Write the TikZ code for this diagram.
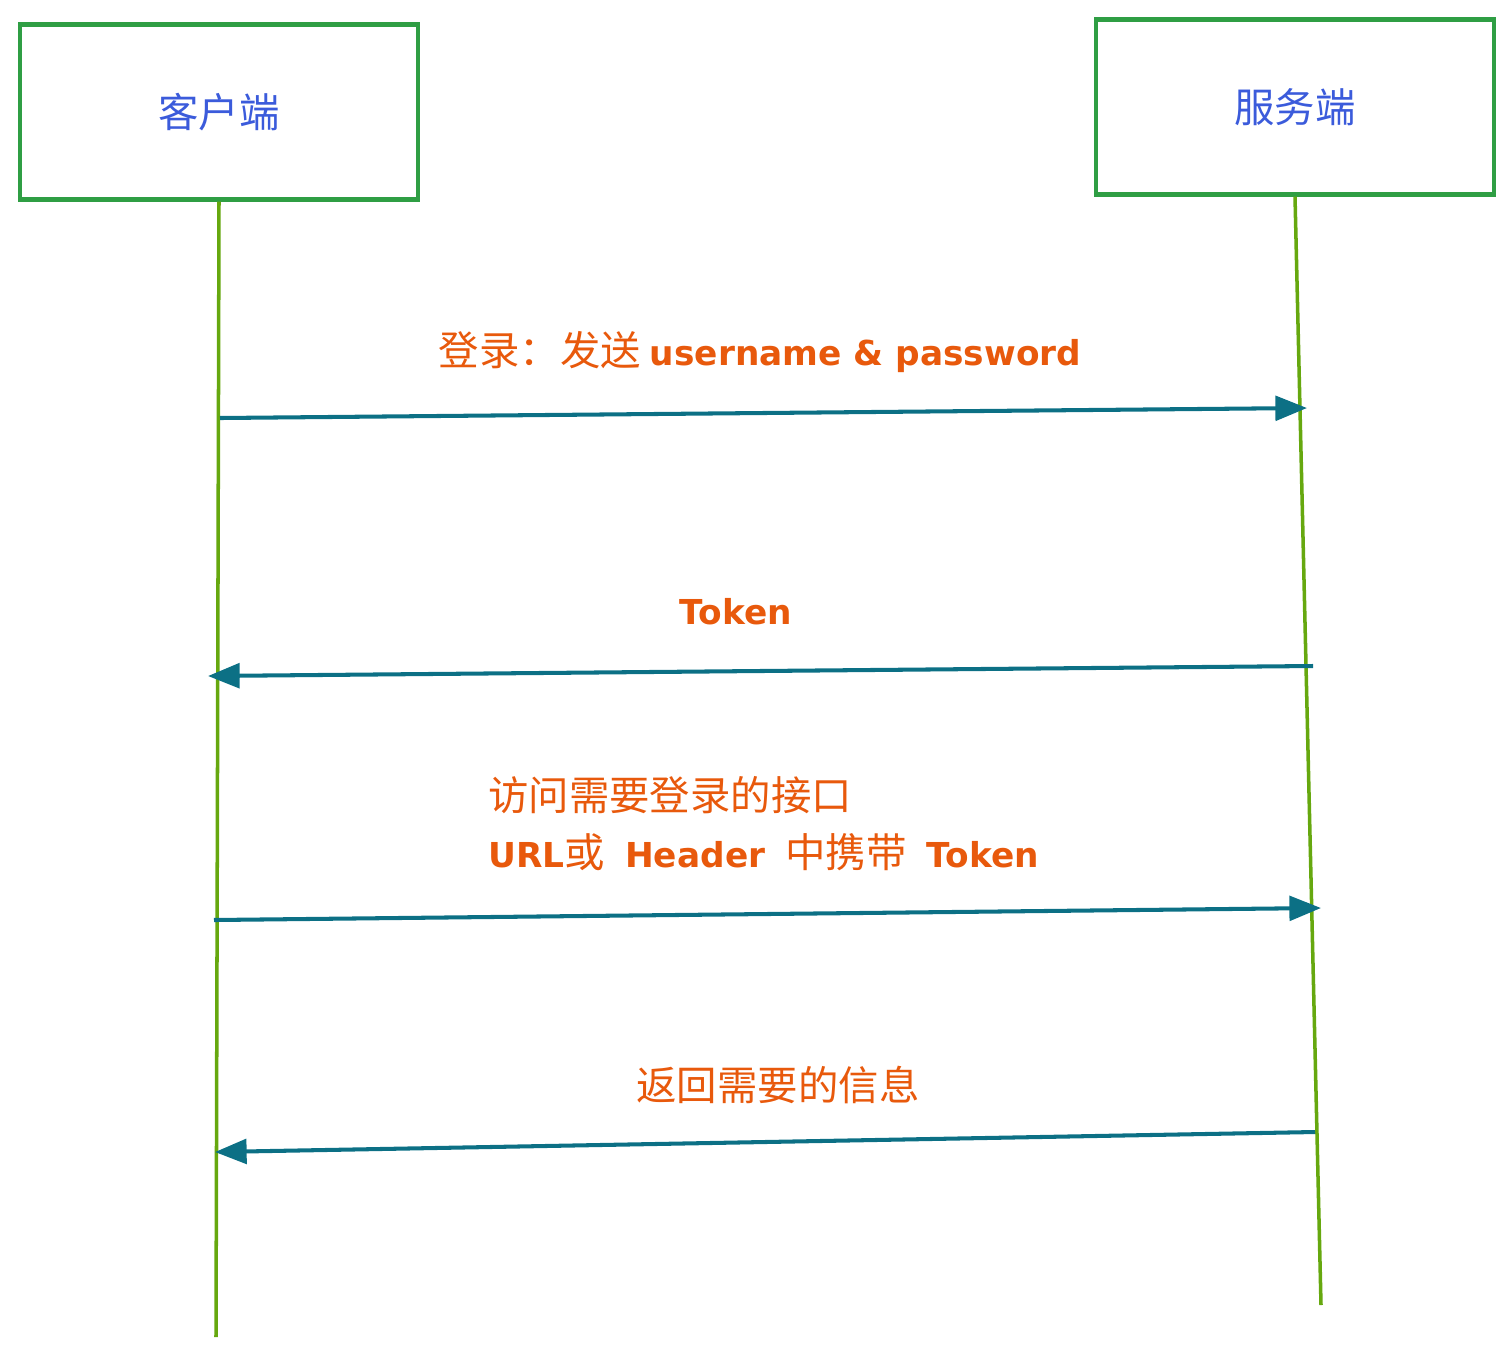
\documentclass[tikz,border=0pt]{standalone}
\usepackage{fontspec}
\setmainfont{Noto Sans CJK SC}
\newfontfamily\latinfont{DejaVu Sans}[Scale=0.85]
\usepackage{xcolor}
\usetikzlibrary{arrows.meta}
\definecolor{BoxGreen}{RGB}{47,158,68}
\definecolor{LifeGreen}{RGB}{102,168,15}
\definecolor{MsgTeal}{RGB}{12,112,133}
\definecolor{LabelOrange}{RGB}{232,89,12}
\definecolor{NameBlue}{RGB}{59,91,219}
\newcommand{\lat}[1]{{\latinfont\bfseries #1}}

\begin{document}
\begin{tikzpicture}[x=0.02cm, y=-0.02cm,
    party/.style={draw=BoxGreen, line width=2.4pt, rectangle, minimum width=7.96cm, minimum height=3.5cm, text=NameBlue, font=\fontsize{23}{27}\selectfont},
    lifeline/.style={draw=LifeGreen, line width=2pt},
    msg/.style={draw=MsgTeal, line width=2.3pt, -{Triangle[length=18pt, width=14pt]}},
    msglabel/.style={text=LabelOrange, font=\fontsize{23}{32.3}\selectfont}]
\useasboundingbox (0,0) rectangle (1511,1357);
% Nodes
\node[party] (client) at (219,112) {客户端};
\node[party] (server) at (1295,107) {服务端};

\coordinate (clientend) at (216,1337);
\coordinate (serverend) at (1321,1305);

\coordinate (loginfrom) at (220,418);
\coordinate (loginto) at (1307,408);
\coordinate (tokenfrom) at (1313,666);
\coordinate (tokento) at (208,676);
\coordinate (callfrom) at (214,920);
\coordinate (callto) at (1321,908);
\coordinate (replyfrom) at (1315,1132);
\coordinate (replyto) at (215,1152);

\node[msglabel] (loginlabel) at (760,352) {登录：发送 \lat{username \& password}};
\node[msglabel] (tokenlabel) at (736,612) {\lat{Token}};
\node[msglabel, anchor=north west, align=left, inner sep=0pt] (calllabel) at (488,776) {访问需要登录的接口\\\lat{URL}或\enspace\lat{Header}\enspace 中携带\enspace\lat{Token}};
\node[msglabel] (replylabel) at (778,1085) {返回需要的信息};

% Arrows
\draw[lifeline] (client.south) -- (clientend);
\draw[lifeline] (server.south) -- (serverend);
\draw[msg] (loginfrom) -- (loginto);
\draw[msg] (tokenfrom) -- (tokento);
\draw[msg] (callfrom) -- (callto);
\draw[msg] (replyfrom) -- (replyto);
\end{tikzpicture}
\end{document}
